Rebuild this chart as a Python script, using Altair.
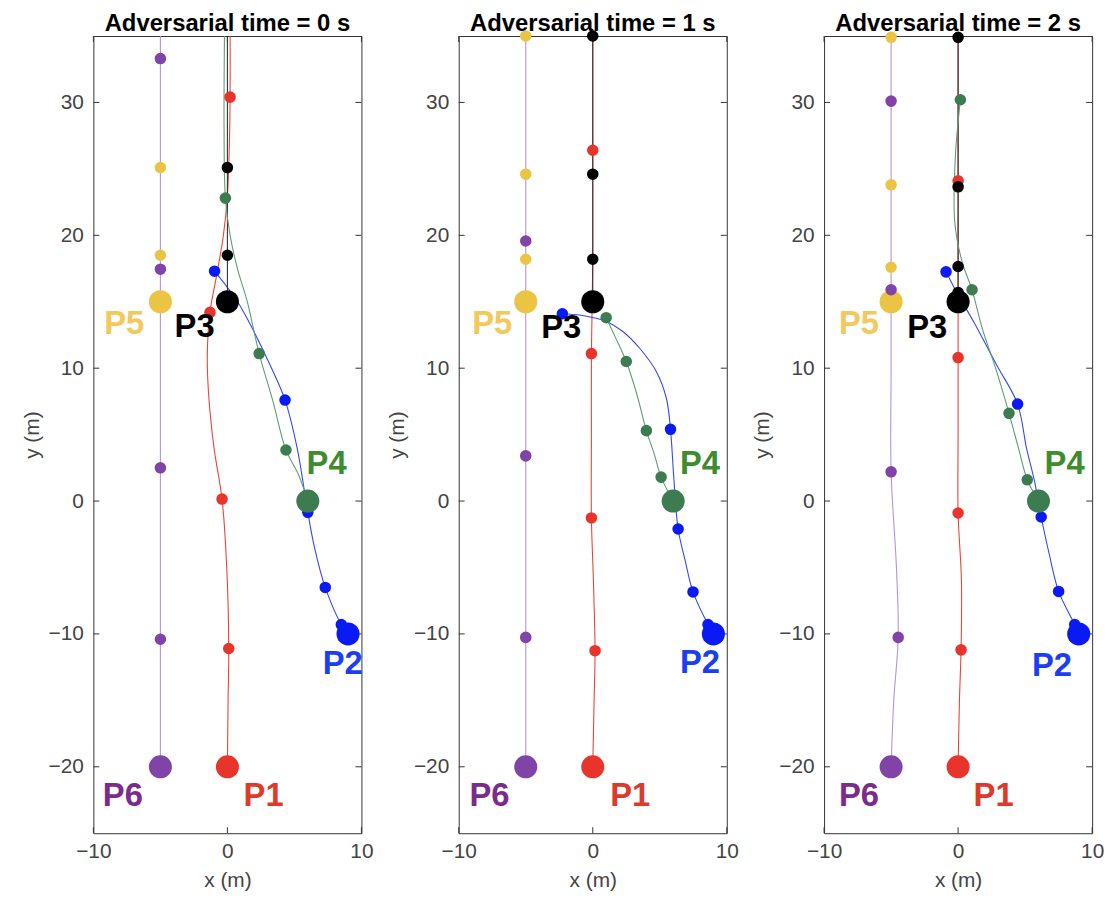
import altair as alt
import pandas as pd

AGENTS = ["P1", "P2", "P3", "P4", "P5", "P6"]
DOT_COLORS = ["#e8342a", "#0a1af5", "#000000", "#3c7c50", "#ebc443", "#8043a8"]
LINE_COLORS = ["#e8453a", "#3347f5", "#333333", "#5f9c70", "#ebc443", "#b394d6"]
LABEL_COLORS = ["#dd3a2c", "#1b3ef2", "#000000", "#3f8c2e", "#f3c85e", "#7b2b8c"]

TITLES = ["Adversarial time = 0 s", "Adversarial time = 1 s", "Adversarial time = 2 s"]
X_TICKS = [-10, 0, 10]
Y_TICKS = [-20, -10, 0, 10, 20, 30]

START_X = [0, 9, 0, 6, -5, -5]
START_Y = [-20, -10, 15, 0, 15, -20]

# ---------- Adversarial time = 0 s ----------
# (P5's own path runs underneath P6's line at x = -5 and is not visible)
T0_PATH = {
    "P1": ([0, 0.05, 0.1, -0.05, -0.4, -1.0, -1.4, -1.5, -1.3, -0.8, -0.3, 0, 0.15, 0.2, 0.2],
           [-20, -15, -11.1, -5, 0.15, 4, 8, 11, 14.2, 17, 20, 23, 27, 30.4, 37]),
    "P2": ([9, 8.5, 7.3, 6.5, 6.0, 5.2, 4.3, 3.2, 1.7, 0.7, -0.96],
           [-10, -9.3, -6.5, -3.5, -0.85, 4, 7.6, 10.2, 13.3, 15.1, 17.3]),
    "P3": ([0, 0], [15, 37]),
    "P4": ([6, 5.3, 4.37, 3.4, 2.37, 1.46, 0.8, 0.2, -0.15, -0.25, -0.2],
           [0, 2, 3.84, 7.5, 11.1, 15.1, 17.3, 20, 22.8, 28, 37]),
    "P6": ([-5, -5], [-20, 37]),
}
T0_DOTS = {
    "P1": ([0.1, -0.4, -1.3, 0.2], [-11.1, 0.15, 14.2, 30.4]),
    "P2": ([8.5, 7.3, 6.0, 4.3, -0.96], [-9.3, -6.5, -0.85, 7.6, 17.3]),
    "P3": ([0, 0], [18.5, 25.1]),
    "P4": ([4.37, 2.37, -0.15], [3.84, 11.1, 22.8]),
    "P5": ([-5, -5], [18.5, 25.1]),
    "P6": ([-5, -5, -5, -5], [-10.4, 2.5, 17.45, 33.3]),
}
T0_LABEL_X = [2.7, 8.6, -2.45, 7.4, -7.7, -7.8]
T0_LABEL_Y = [-22.2, -12.3, 13.1, 2.8, 13.3, -22.2]

# ---------- Adversarial time = 1 s ----------
T1_PATH = {
    "P1": ([0, 0.1, 0.17, 0.05, -0.1, -0.1, -0.1, 0, 0, 0],
           [-20, -15, -11.26, -6, -1.27, 5, 11.1, 18, 26.4, 37]),
    "P2": ([9, 8.6, 7.48, 6.9, 6.37, 6.05, 5.8, 5.5, 4.77, 3.5, 2.2, 1.06, 0.07, -1, -2.27],
           [-10, -9.3, -6.84, -4.5, -2.1, 1.7, 5.4, 7.7, 9.7, 11.5, 12.8, 13.5, 13.8, 14, 14.1]),
    "P3": ([0, 0], [15, 35]),
    "P4": ([6, 5.1, 4.6, 4.0, 3.3, 2.5, 1.7, 1.0],
           [0, 1.8, 3.5, 5.3, 8, 10.5, 12.3, 13.8]),
    "P6": ([-5, -5], [-20, 37]),
}
T1_DOTS = {
    "P1": ([0.17, -0.1, -0.1, 0], [-11.26, -1.27, 11.1, 26.4]),
    "P2": ([8.6, 7.48, 6.37, 5.8, -2.27], [-9.3, -6.84, -2.1, 5.4, 14.1]),
    "P3": ([0, 0, 0], [18.2, 24.6, 35]),
    "P4": ([5.1, 4.0, 2.5, 1.0], [1.8, 5.3, 10.5, 13.8]),
    "P5": ([-5, -5, -5], [18.2, 24.6, 35]),
    "P6": ([-5, -5, -5], [-10.26, 3.4, 19.57]),
}
T1_LABEL_X = [2.8, 8.0, -2.35, 8.0, -7.5, -7.7]
T1_LABEL_Y = [-22.2, -12.2, 13.0, 2.8, 13.3, -22.2]

# ---------- Adversarial time = 2 s ----------
T2_PATH = {
    "P1": ([0, 0.1, 0.22, 0.25, 0, 0, 0, 0, 0, 0],
           [-20, -15, -11.2, -6, -0.9, 5, 10.8, 17, 24.1, 37]),
    "P2": ([9, 8.7, 7.5, 6.8, 6.2, 5.7, 5.1, 4.44, 2.9, 1.16, 0, -0.9],
           [-10, -9.3, -6.8, -4, -1.2, 1.5, 4, 7.3, 10.2, 13.5, 15.5, 17.25]),
    "P3": ([0, 0], [15, 37]),
    "P4": ([6, 5.16, 4.5, 3.8, 2.8, 1.8, 1.04, 0.3, -0.25, -0.2, 0.17],
           [0, 1.6, 4, 6.6, 10, 13, 15.9, 18, 21, 26, 30.2]),
    "P6": ([-5, -4.8, -4.47, -4.6, -5, -5, -5, -5],
           [-20, -15, -10.26, -5, 2.2, 10, 20, 37]),
}
T2_DOTS = {
    "P1": ([0.22, 0, 0, 0], [-11.2, -0.9, 10.8, 24.1]),
    "P2": ([8.7, 7.5, 6.2, 4.44, -0.9], [-9.3, -6.8, -1.2, 7.3, 17.25]),
    "P3": ([0, 0, 0, 0], [15.7, 17.65, 23.65, 34.9]),
    "P4": ([5.16, 3.8, 1.04, 0.17], [1.6, 6.6, 15.9, 30.2]),
    "P5": ([-5, -5, -5], [17.6, 23.8, 34.9]),
    "P6": ([-4.47, -5, -5, -5], [-10.26, 2.2, 15.9, 30.1]),
}
T2_LABEL_X = [2.65, 7.0, -2.3, 7.95, -7.4, -7.4]
T2_LABEL_Y = [-22.2, -12.4, 13.0, 2.75, 13.3, -22.2]

PATHS = [T0_PATH, T1_PATH, T2_PATH]
DOTS = [T0_DOTS, T1_DOTS, T2_DOTS]
LABEL_XS = [T0_LABEL_X, T1_LABEL_X, T2_LABEL_X]
LABEL_YS = [T0_LABEL_Y, T1_LABEL_Y, T2_LABEL_Y]

FONT = "Liberation Sans"
W, H = 270, 803
TICK = 6
AXIS_COLOR = "#333333"


def panel(k):
    line_rows = []
    for a in AGENTS:
        if a not in PATHS[k]:
            continue
        xs, ys = PATHS[k][a]
        for i, (x, y) in enumerate(zip(xs, ys)):
            line_rows.append({"agent": a, "i": i, "x": x, "y": y})
    dot_rows = []
    for j, a in enumerate(AGENTS):
        dot_rows.append({"agent": a, "kind": "big", "x": START_X[j], "y": START_Y[j], "o": len(dot_rows)})
        xs, ys = DOTS[k][a]
        for x, y in zip(xs, ys):
            dot_rows.append({"agent": a, "kind": "small", "x": x, "y": y, "o": len(dot_rows)})
    label_rows = [{"agent": a, "x": LABEL_XS[k][j], "y": LABEL_YS[k][j]} for j, a in enumerate(AGENTS)]

    xsc = alt.Scale(domain=[-10, 10], nice=False, zero=False)
    ysc = alt.Scale(domain=[-25, 35], nice=False, zero=False)
    xaxis = alt.Axis(values=X_TICKS, title="x (m)", labelFlush=False, titlePadding=9, labelPadding=7)
    yaxis = alt.Axis(values=Y_TICKS, title="y (m)", labelFlush=False)

    def X(f):
        return alt.X(f, scale=xsc, axis=xaxis)

    def Y(f):
        return alt.Y(f, scale=ysc, axis=yaxis)

    lines = alt.Chart(pd.DataFrame(line_rows)).mark_line(
        strokeWidth=1.1, clip=True, interpolate="catmull-rom"
    ).encode(
        x=X("x:Q"),
        y=Y("y:Q"),
        color=alt.Color("agent:N", scale=alt.Scale(domain=AGENTS, range=LINE_COLORS), legend=None),
        detail="agent:N",
        order=alt.Order("i:Q"),
    )

    dots = alt.Chart(pd.DataFrame(dot_rows)).mark_circle(opacity=1).encode(
        x=X("x:Q"),
        y=Y("y:Q"),
        color=alt.Color("agent:N", scale=alt.Scale(domain=AGENTS, range=DOT_COLORS), legend=None),
        size=alt.Size("kind:N", scale=alt.Scale(domain=["small", "big"], range=[135, 540]), legend=None),
        order=alt.Order("o:Q"),
    )

    labels = alt.Chart(pd.DataFrame(label_rows)).mark_text(
        font=FONT, fontSize=33, fontWeight="bold", align="center", baseline="middle"
    ).encode(
        x=X("x:Q"),
        y=Y("y:Q"),
        text="agent:N",
        color=alt.Color("agent:N", scale=alt.Scale(domain=AGENTS, range=LABEL_COLORS), legend=None),
    )

    title = alt.Chart(pd.DataFrame({"t": [TITLES[k]]})).mark_text(
        font=FONT, fontSize=24, fontWeight="bold", align="center", baseline="alphabetic",
        color="#000000"
    ).encode(text="t:N", x=alt.value(W / 2), y=alt.value(-5))

    xt = pd.DataFrame({"x": X_TICKS})
    yt = pd.DataFrame({"y": Y_TICKS})
    tick_style = dict(color=AXIS_COLOR, strokeWidth=1)
    xb = alt.Chart(xt).mark_rule(**tick_style).encode(
        x=X("x:Q"), y=alt.value(H), y2=alt.value(H - TICK))
    xtop = alt.Chart(xt).mark_rule(**tick_style).encode(
        x=X("x:Q"), y=alt.value(0), y2=alt.value(TICK))
    yl = alt.Chart(yt).mark_rule(**tick_style).encode(
        y=Y("y:Q"), x=alt.value(0), x2=alt.value(TICK))
    yr = alt.Chart(yt).mark_rule(**tick_style).encode(
        y=Y("y:Q"), x=alt.value(W), x2=alt.value(W - TICK))

    return alt.layer(lines, xb, xtop, yl, yr, dots, labels, title).resolve_scale(
        color="independent"
    ).properties(width=W, height=H)


chart = alt.hconcat(panel(0), panel(1), panel(2), spacing=98, bounds="flush").properties(
    padding={"left": 12, "top": 0, "right": 5, "bottom": 0}
).configure_view(
    stroke=AXIS_COLOR, strokeWidth=1
).configure_axis(
    domain=False, ticks=False, grid=False,
    labelFont=FONT, labelFontSize=21, labelColor="#444444", labelPadding=10,
    titleFont=FONT, titleFontSize=21, titleFontWeight="normal", titleColor="#444444",
    titlePadding=6,
)

chart.save("out.html", embed_options={"renderer": "svg", "actions": False})
